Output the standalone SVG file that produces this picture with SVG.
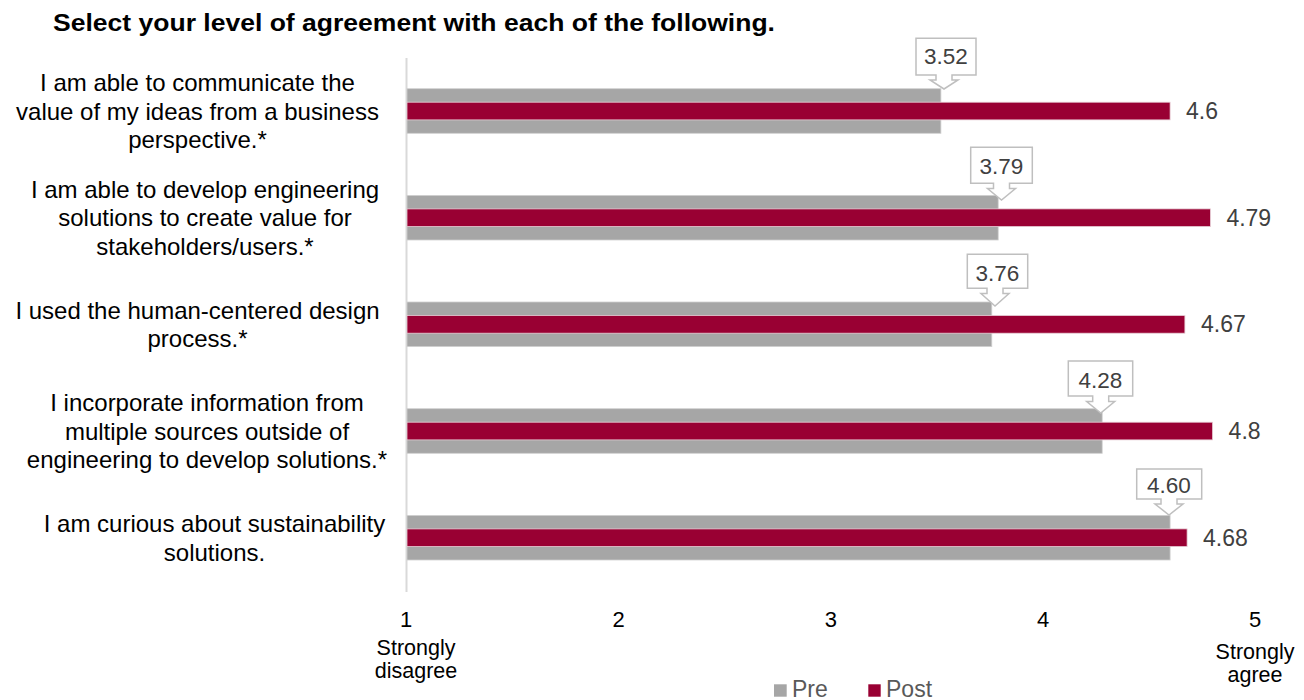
<svg xmlns="http://www.w3.org/2000/svg" width="1304" height="700" viewBox="0 0 1304 700">
<style>
.t{font-family:"Liberation Sans",Arial,sans-serif}
.title{font-size:24px;font-weight:bold;fill:#000}
.lbl{font-size:24px;fill:#000;text-anchor:middle}
.ax{font-size:22px;fill:#000;text-anchor:middle}
.axs{font-size:21.5px;fill:#000;text-anchor:middle}
.val{font-size:23px;fill:#404040}
.cv{font-size:22.5px;fill:#404040;text-anchor:middle}
.leg{font-size:23px;fill:#595959}
.pre{fill:#A6A6A6;stroke:#D0D0D0;stroke-width:0.8}
.post{fill:#990033;stroke:#E8D0D8;stroke-width:0.8}
.call{fill:#fff;stroke:#BFBFBF;stroke-width:1.5;stroke-linejoin:miter}
</style>
<rect width="1304" height="700" fill="#fff"/>
<text class="t title" x="53" y="31" textLength="722" lengthAdjust="spacingAndGlyphs">Select your level of agreement with each of the following.</text>
<g id="axis">
<line x1="406.5" y1="58" x2="406.5" y2="592" stroke="#D9D9D9" stroke-width="2"/>
<text class="t ax" x="406" y="627">1</text>
<text class="t ax" x="618.5" y="627">2</text>
<text class="t ax" x="830.75" y="627">3</text>
<text class="t ax" x="1043" y="627">4</text>
<text class="t ax" x="1255" y="627">5</text>
<text class="t axs" x="416" y="655">Strongly</text>
<text class="t axs" x="416" y="678">disagree</text>
<text class="t axs" x="1255" y="659">Strongly</text>
<text class="t axs" x="1255" y="682">agree</text>
</g>
<g id="item1">
<text class="t lbl" x="197.5" y="91">I am able to communicate the</text>
<text class="t lbl" x="197.5" y="119.5">value of my ideas from a business</text>
<text class="t lbl" x="197.5" y="148">perspective.*</text>
<rect class="pre" x="407" y="88.7" width="533.9" height="44.6"/>
<rect class="post" x="407" y="102.2" width="763.1" height="17.7"/>
<text class="t val" x="1186" y="119">4.6</text>
<path class="call" d="M916 38.3 H976 V75 H952 V80 H958 L944 89 L930 80 H936 V75 H916 Z"/>
<text class="t cv" x="946" y="64.3">3.52</text>
</g>
<g id="item2">
<text class="t lbl" x="205" y="197.7">I am able to develop engineering</text>
<text class="t lbl" x="205" y="226.2">solutions to create value for</text>
<text class="t lbl" x="205" y="254.7">stakeholders/users.*</text>
<rect class="pre" x="407" y="195.4" width="591.2" height="44.6"/>
<rect class="post" x="407" y="208.9" width="803.4" height="17.7"/>
<text class="t val" x="1226.4" y="225.7">4.79</text>
<path class="call" d="M970.7 147.3 H1032.3 V183.3 H1009.5 V188.5 H1015.5 L1001.5 200 L987.5 188.5 H993.5 V183.3 H970.7 Z"/>
<text class="t cv" x="1001.5" y="174">3.79</text>
</g>
<g id="item3">
<text class="t lbl" x="197.5" y="318.6">I used the human-centered design</text>
<text class="t lbl" x="197.5" y="347.1">process.*</text>
<rect class="pre" x="407" y="302" width="584.8" height="44.6"/>
<rect class="post" x="407" y="315.5" width="777.9" height="17.7"/>
<text class="t val" x="1201" y="332.3">4.67</text>
<path class="call" d="M967.3 254.3 H1027.7 V288.3 H1003 V293.5 H1009 L995 306 L981 293.5 H987 V288.3 H967.3 Z"/>
<text class="t cv" x="997.5" y="281">3.76</text>
</g>
<g id="item4">
<text class="t lbl" x="207" y="411">I incorporate information from</text>
<text class="t lbl" x="207" y="439.5">multiple sources outside of</text>
<text class="t lbl" x="207" y="468">engineering to develop solutions.*</text>
<rect class="pre" x="407" y="408.7" width="695.2" height="44.6"/>
<rect class="post" x="407" y="422.2" width="805.6" height="17.7"/>
<text class="t val" x="1228.6" y="439">4.8</text>
<path class="call" d="M1068.3 361 H1132.7 V396 H1108.7 V401.5 H1114.7 L1100.7 413 L1086.7 401.5 H1092.7 V396 H1068.3 Z"/>
<text class="t cv" x="1100.5" y="388">4.28</text>
</g>
<g id="item5">
<text class="t lbl" x="214.5" y="532">I am curious about sustainability</text>
<text class="t lbl" x="214.5" y="560.5">solutions.</text>
<rect class="pre" x="407" y="515.4" width="763.1" height="44.6"/>
<rect class="post" x="407" y="528.9" width="780.1" height="17.7"/>
<text class="t val" x="1203" y="545.7">4.68</text>
<path class="call" d="M1136.7 469 H1201.7 V499 H1177 V504 H1183 L1169 515 L1155 504 H1161 V499 H1136.7 Z"/>
<text class="t cv" x="1169" y="493">4.60</text>
</g>
<g id="legend">
<rect x="774" y="684.3" width="12.7" height="12.4" fill="#A6A6A6"/>
<text class="t leg" x="792" y="697.3">Pre</text>
<rect x="868.3" y="684.3" width="12.4" height="12.4" fill="#990033"/>
<text class="t leg" x="886" y="697.3">Post</text>
</g>
<g id="connectors"></g>
</svg>
